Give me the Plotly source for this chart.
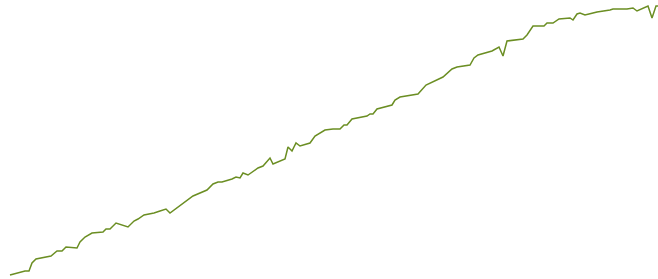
import plotly.graph_objects as go

x_vals = [10, 25, 29, 32, 36, 42, 51, 57, 62, 66, 77, 80, 85, 92, 103, 106, 110, 116, 128, 134,
          138, 144, 154, 160, 166, 170, 183, 188, 193, 207, 213, 218, 222, 232, 236, 240, 243, 248,
          258, 263, 266, 270, 273, 285, 288, 292, 296, 300, 310, 315, 325, 333, 340, 344, 347, 352,
          367, 370, 373, 377, 392, 395, 400, 418, 426, 443, 452, 457, 470, 474, 478, 492, 499, 503,
          507, 523, 527, 533, 544, 547, 553, 559, 570, 573, 577, 580, 585, 597, 610, 613, 627, 633,
          637, 648, 652, 656, 658]
y_pix = [275, 271, 271, 263, 259, 258, 256, 251, 251, 247, 248, 242, 237, 233, 232, 229, 229, 223, 227, 221,
         219, 215, 213, 211, 209, 213, 203, 200, 196, 190, 184, 182, 182, 179, 177, 178, 173, 175,
         168, 166, 163, 158, 164, 159, 147, 151, 143, 146, 143, 136, 130, 129, 129, 125, 125, 119,
         116, 114, 114, 109, 105, 100, 97, 94, 85, 77, 69, 67, 65, 58, 55, 51, 47, 56,
         41, 39, 35, 26, 26, 23, 23, 19, 18, 20, 14, 13, 15, 12, 10, 9, 9, 8,
         11, 6, 18, 6, 6]
y_vals = [279 - v for v in y_pix]

fig = go.Figure(go.Scatter(x=x_vals, y=y_vals, mode="lines",
                           line=dict(color="#6b8e23", width=1.5), hoverinfo="skip"))
fig.update_layout(
    width=658, height=279,
    margin=dict(l=0, r=0, t=0, b=0),
    paper_bgcolor="white", plot_bgcolor="white",
    showlegend=False,
    xaxis=dict(range=[0, 658], visible=False),
    yaxis=dict(range=[0, 279], visible=False),
)
fig.write_html(
    "out.html",
    config={"displayModeBar": False},
    post_script="document.body.style.margin='0';document.body.style.overflow='hidden';",
)
